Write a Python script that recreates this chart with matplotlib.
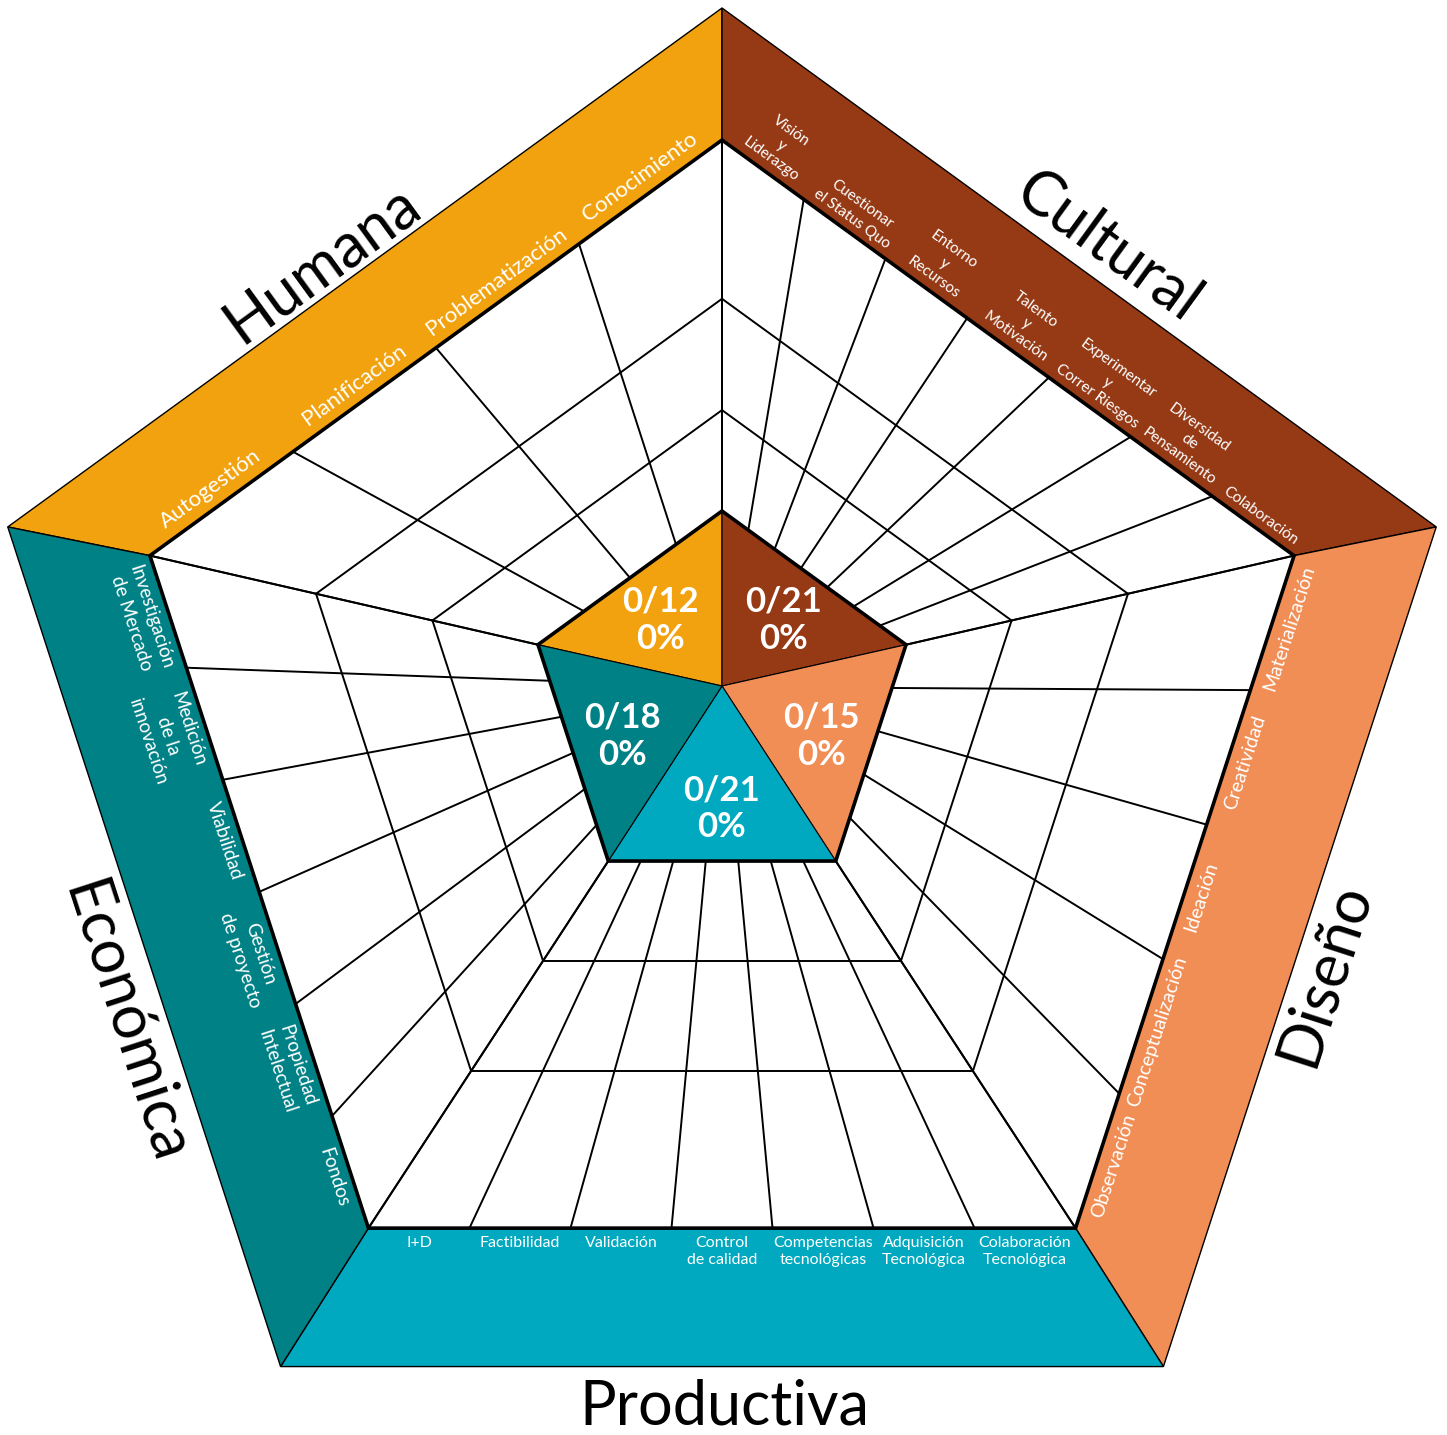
import numpy as np
import matplotlib
matplotlib.use("Agg")
import matplotlib.pyplot as plt
from matplotlib.patches import Polygon

plt.rcParams['font.family'] = ['Lato', 'DejaVu Sans']

# --- data ---
categories = ["Humana", "Cultural", "Diseño", "Productiva", "Económica"]
colors = ["#F2A20E", "#963A16", "#F08E55", "#00A9BF", "#008186"]

humana_items = ["Autogestión", "Planificación", "Problematización", "Conocimiento"]
cultural_items = ["Visión\ny\nLiderazgo", "Cuestionar\nel Status Quo", "Entorno\ny\nRecursos",
                  "Talento\ny\nMotivación", "Experimentar\ny\nCorrer Riesgos",
                  "Diversidad\nde\nPensamiento", "Colaboración"]
diseno_items = ["Observación", "Conceptualización", "Ideación", "Creatividad", "Materialización"]
productiva_items = ["I+D", "Factibilidad", "Validación", "Control\nde calidad",
                    "Competencias\ntecnológicas", "Adquisición\nTecnológica",
                    "Colaboración\nTecnológica"]
economica_items = ["Investigación\nde Mercado", "Medición\nde la\ninnovación", "Viabilidad",
                   "Gestión\nde proyecto", "Propiedad\nIntelectual", "Fondos"]
items = [humana_items, cultural_items, diseno_items, productiva_items, economica_items]

levels = 3
achieved = [0, 0, 0, 0, 0]

# --- layout (pixel space) ---
W_PX, H_PX = 1447, 1435
cx = 722
# side of each category: (start vertex, end vertex) in reading order
sides = [(4, 0), (0, 1), (2, 1), (3, 2), (4, 3)]
ring_t = [0.272, 0.572]
label_size = [16, 11, 14, 11.5, 13.5]
label_gap = [8, 6, 9, 8, 9]
title_shift = [(-32, 28), (11, 34), (-18, 32), (2, 40), (66, 42)]


def pentagon(cy, r):
    a = np.radians(-90 + 72 * np.arange(5))
    return np.c_[cx + r * np.cos(a), cy + r * np.sin(a)]


outer = pentagon(759, 751)
web = pentagon(741.5, 601.5)
inner = pentagon(704.5, 193.5)
tri_c = np.array([cx, 686.0])
web_c = np.array([cx, 741.5])

fig = plt.figure(figsize=(W_PX / 100, H_PX / 100), dpi=100)
ax = fig.add_axes([0, 0, 1, 1])
ax.set_xlim(0, W_PX)
ax.set_ylim(H_PX, 0)
ax.axis('off')

# colored bands
for k, (i, j) in enumerate(sides):
    ax.add_patch(Polygon([outer[i], outer[j], web[j], web[i]], closed=True,
                         facecolor=colors[k], edgecolor='black', lw=1.0, zorder=1))

ax.add_patch(Polygon(web, closed=True, facecolor='white', edgecolor='none', zorder=2))

# web grid
for k, (i, j) in enumerate(sides):
    n = len(items[k])
    for v in (i, j):
        ax.plot([inner[v][0], web[v][0]], [inner[v][1], web[v][1]], color='black', lw=1.4, zorder=3)
    for m in range(1, n):
        p = inner[i] + m / n * (inner[j] - inner[i])
        q = web[i] + m / n * (web[j] - web[i])
        ax.plot([p[0], q[0]], [p[1], q[1]], color='black', lw=1.4, zorder=3)
    for t in ring_t:
        a = inner[i] + t * (web[i] - inner[i])
        b = inner[j] + t * (web[j] - inner[j])
        ax.plot([a[0], b[0]], [a[1], b[1]], color='black', lw=1.4, zorder=3)

ax.add_patch(Polygon(web, closed=True, facecolor='none', edgecolor='black', lw=2.6,
                     joinstyle='miter', zorder=4))

# centre triangles
for k, (i, j) in enumerate(sides):
    tri = np.array([tri_c, inner[i], inner[j]])
    ax.add_patch(Polygon(tri, closed=True, facecolor=colors[k], edgecolor='black', lw=0.8, zorder=5))
    total = len(items[k]) * levels
    pct = 100 * achieved[k] / total
    c = tri.mean(axis=0)
    ax.text(c[0], c[1] + 6, f"{achieved[k]}/{total}\n{pct:.0f}%", color='white', fontsize=25,
            family=['Lato Semibold', 'Lato Medium', 'Lato'], fontweight='bold',
            ha='center', va='center', linespacing=1.2, zorder=7)
ax.add_patch(Polygon(inner, closed=True, facecolor='none', edgecolor='black', lw=2.6,
                     joinstyle='miter', zorder=6))

# labels in bands and titles
for k, (i, j) in enumerate(sides):
    n = len(items[k])
    d = web[j] - web[i]
    u = d / np.hypot(*d)
    nrm = np.array([-u[1], u[0]])
    mid = (web[i] + web[j]) / 2
    if np.dot(nrm, mid - web_c) < 0:
        nrm = -nrm
    rot = np.degrees(np.arctan2(-d[1], d[0]))
    th = np.radians(rot)
    up = np.array([-np.sin(th), -np.cos(th)])
    va = 'bottom' if np.dot(up, nrm) > 0 else 'top'
    for m, lab in enumerate(items[k]):
        p = web[i] + (m + 0.5) / n * d + nrm * label_gap[k]
        ax.text(p[0], p[1], lab, color='white', fontsize=label_size[k], rotation=rot,
                rotation_mode='anchor', ha='center', va=va, linespacing=1.3, zorder=8)
    omid = (outer[i] + outer[j]) / 2
    s, o = title_shift[k]
    p = omid + u * s + nrm * o
    ax.text(p[0], p[1], categories[k], color='black', fontsize=44, rotation=rot,
            rotation_mode='anchor', ha='center', va='center', zorder=8)

fig.savefig("out.png", dpi=100)
